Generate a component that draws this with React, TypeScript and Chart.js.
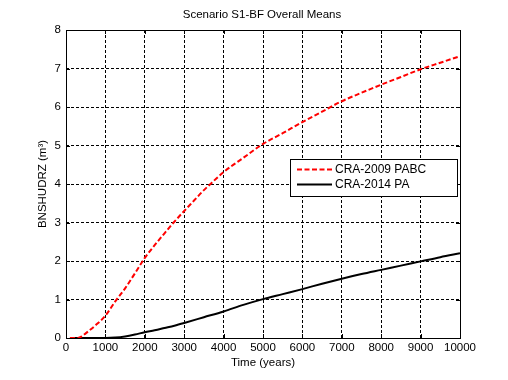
import React, { useEffect, useRef } from "react";
import { Chart, registerables } from "chart.js";

Chart.register(...registerables);

const TITLE = "Scenario S1-BF Overall Means";
const X_LABEL = "Time (years)";
const Y_LABEL = "BNSHUDRZ (m³)";

const redYears = [100, 300, 400, 500, 750, 1000, 1250, 1500, 1750, 2000, 2250, 2500, 2750, 3000, 3250, 3500, 3750, 4000, 4500, 5000, 5500, 6000, 6500, 7000, 7500, 8000, 8500, 9000, 9500, 10000];
const redValues = [0, 0, 0.04, 0.12, 0.33, 0.58, 0.95, 1.29, 1.68, 2.08, 2.41, 2.72, 3.02, 3.3, 3.57, 3.84, 4.08, 4.31, 4.68, 5.04, 5.32, 5.61, 5.88, 6.15, 6.37, 6.58, 6.78, 6.98, 7.15, 7.32];

const blackYears = [100, 500, 1000, 1250, 1500, 1750, 2000, 2250, 2500, 2750, 3000, 3500, 4000, 4500, 5000, 5500, 6000, 6500, 7000, 7500, 8000, 8500, 9000, 9500, 10000];
const blackValues = [0, 0, 0, 0.01, 0.04, 0.09, 0.15, 0.2, 0.26, 0.32, 0.39, 0.54, 0.69, 0.86, 1.01, 1.14, 1.27, 1.41, 1.54, 1.66, 1.77, 1.88, 1.99, 2.1, 2.2];

const seriesNames = ["CRA-2009 PABC", "CRA-2014 PA"];
const seriesColors = ["#ff0000", "#000000"];

const FONT = "'Liberation Sans', Arial, Helvetica, sans-serif";

const framePlugin = {
  id: "frame",
  afterDatasetsDraw(chart: any) {
    const { ctx, chartArea } = chart;
    const { left, right, top, bottom } = chartArea;
    ctx.save();
    ctx.strokeStyle = "#000";
    ctx.lineWidth = 1;
    ctx.setLineDash([]);
    const xs = chart.scales.x;
    const ys = chart.scales.y;
    const tl = 4;
    ctx.beginPath();
    xs.ticks.forEach((t: any) => {
      const px = Math.round(xs.getPixelForValue(t.value)) + 0.5;
      ctx.moveTo(px, bottom);
      ctx.lineTo(px, bottom - tl);
      ctx.moveTo(px, top);
      ctx.lineTo(px, top + tl);
    });
    ys.ticks.forEach((t: any) => {
      const py = Math.round(ys.getPixelForValue(t.value)) + 0.5;
      ctx.moveTo(left, py);
      ctx.lineTo(left + tl, py);
      ctx.moveTo(right, py);
      ctx.lineTo(right - tl, py);
    });
    ctx.stroke();
    ctx.strokeRect(Math.round(left) + 0.5, Math.round(top) + 0.5, Math.round(right - left), Math.round(bottom - top));

    ctx.fillStyle = "#000";
    ctx.font = `11.5px ${FONT}`;
    ctx.textAlign = "center";
    ctx.textBaseline = "middle";
    ctx.fillText(TITLE, (left + right) / 2 - 1, 15);

    const bx = 290.5, by = 159.5, bw = 167, bh = 37;
    ctx.fillStyle = "#fff";
    ctx.fillRect(bx, by, bw, bh);
    ctx.strokeRect(bx, by, bw, bh);
    const rows = [169.5, 184.5];
    ctx.font = `12px ${FONT}`;
    seriesNames.forEach((name, i) => {
      ctx.beginPath();
      ctx.strokeStyle = seriesColors[i];
      ctx.lineWidth = 2;
      ctx.setLineDash(i === 0 ? [5, 2.5] : []);
      ctx.moveTo(297, rows[i]);
      ctx.lineTo(332, rows[i]);
      ctx.stroke();
      ctx.setLineDash([]);
      ctx.fillStyle = "#000";
      ctx.textAlign = "left";
      ctx.fillText(name, 335, rows[i]);
    });
    ctx.restore();
  },
};

export default function App() {
  const ref = useRef<HTMLCanvasElement | null>(null);
  useEffect(() => {
    document.body.style.margin = "0";
    const canvas = ref.current;
    if (!canvas) return;
    const chart = new Chart(canvas, {
      type: "line",
      data: {
        datasets: [
          {
            label: seriesNames[0],
            data: redYears.map((x, i) => ({ x, y: redValues[i] })),
            borderColor: seriesColors[0],
            borderWidth: 2,
            borderDash: [5, 2.5],
            pointRadius: 0,
            cubicInterpolationMode: "monotone",
            fill: false,
          },
          {
            label: seriesNames[1],
            data: blackYears.map((x, i) => ({ x, y: blackValues[i] })),
            borderColor: seriesColors[1],
            borderWidth: 2,
            pointRadius: 0,
            cubicInterpolationMode: "monotone",
            fill: false,
          },
        ],
      },
      options: {
        animation: false,
        responsive: false,
        devicePixelRatio: 1,
        layout: { padding: { top: 30, right: 48, left: 0, bottom: 0 } },
        plugins: {
          legend: { display: false },
          title: { display: false },
          tooltip: { enabled: false },
        },
        scales: {
          x: {
            type: "linear",
            min: 0,
            max: 10000,
            afterFit(scale: any) {
              scale.height = 42;
            },
            ticks: {
              stepSize: 1000,
              color: "#000",
              padding: 3,
              maxRotation: 0,
              autoSkip: false,
              font: { family: FONT, size: 11.5 },
              callback: (v: any) => String(v),
            },
            grid: { color: "#000", lineWidth: 1, drawTicks: false },
            border: { display: false, dash: [3, 2] },
            title: {
              display: true,
              text: X_LABEL,
              color: "#000",
              font: { family: FONT, size: 11.5 },
              padding: { top: 0, bottom: 10 },
            },
          },
          y: {
            type: "linear",
            min: 0,
            max: 8,
            afterFit(scale: any) {
              scale.width = 66;
            },
            ticks: {
              stepSize: 1,
              color: "#000",
              padding: 5,
              font: { family: FONT, size: 11.5 },
            },
            grid: { color: "#000", lineWidth: 1, drawTicks: false },
            border: { display: false, dash: [3, 2] },
            title: {
              display: true,
              text: Y_LABEL,
              color: "#000",
              font: { family: FONT, size: 11.5 },
              padding: { top: 36, bottom: 0 },
            },
          },
        },
      },
      plugins: [framePlugin],
    });
    return () => chart.destroy();
  }, []);
  return (
    <div style={{ width: 508, height: 380, background: "#fff" }}>
      <canvas ref={ref} width={508} height={380} />
    </div>
  );
}
